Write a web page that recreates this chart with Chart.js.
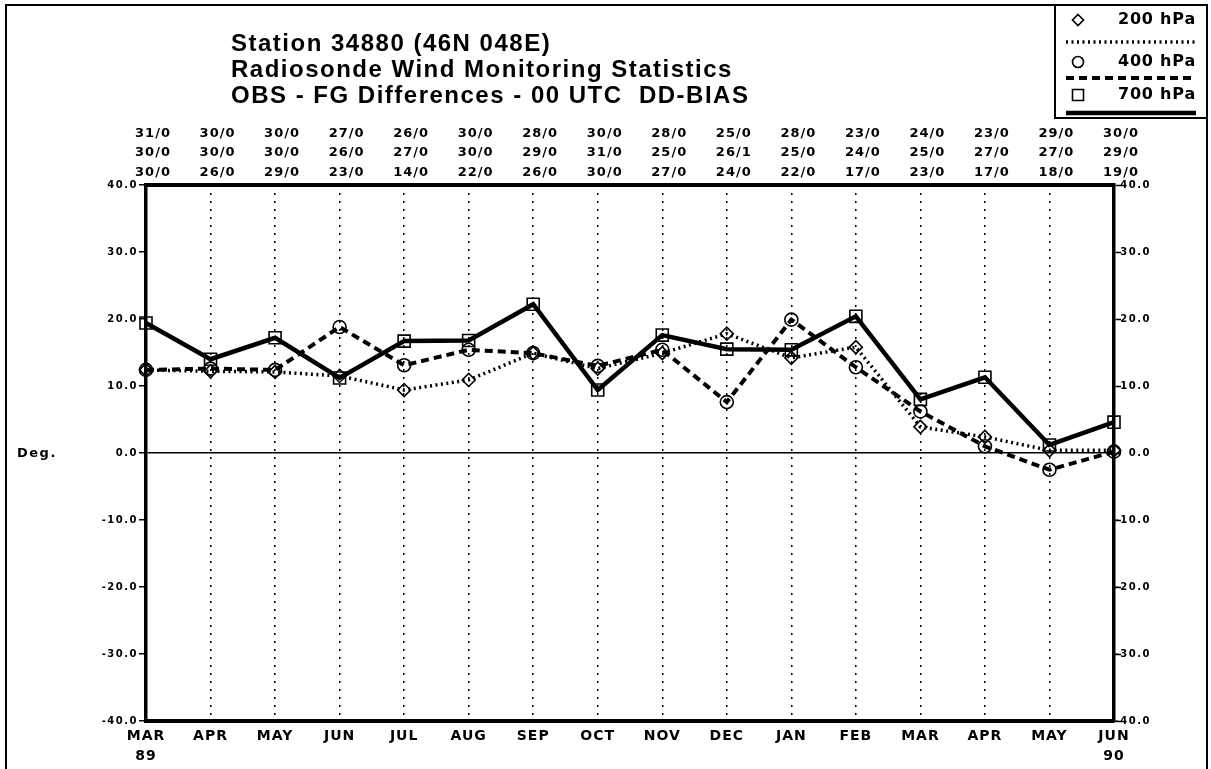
<!DOCTYPE html>
<html>
<head>
<meta charset="utf-8">
<script src="https://cdn.jsdelivr.net/npm/chart.js@4.4.1/dist/chart.umd.min.js"></script>
<style>
  html, body { margin: 0; padding: 0; background: #fff; }
  #wrap { width: 1211px; height: 769px; position: relative; }
</style>
</head>
<body>
<div id="wrap"><canvas id="c" width="1211" height="769"></canvas></div>
<script>
// Months on the time axis (MAR 1989 .. JUN 1990)
const months = ['MAR','APR','MAY','JUN','JUL','AUG','SEP','OCT','NOV','DEC','JAN','FEB','MAR','APR','MAY','JUN'];
const yearMarks = ['89','','','','','','','','','','','','','','','90'];

// Observation counts per month (used / rejected) for each level
const count200 = ['31/0','30/0','30/0','27/0','26/0','30/0','28/0','30/0','28/0','25/0','28/0','23/0','24/0','23/0','29/0','30/0'];
const count400 = ['30/0','30/0','30/0','26/0','27/0','30/0','29/0','31/0','25/0','26/1','25/0','24/0','25/0','27/0','27/0','29/0'];
const count700 = ['30/0','26/0','29/0','23/0','14/0','22/0','26/0','30/0','27/0','24/0','22/0','17/0','23/0','17/0','18/0','19/0'];

// Monthly mean wind-direction bias (degrees)
const bias200 = [12.4, 12.2, 12.1, 11.5, 9.4, 10.9, 14.9, 12.6, 14.9, 17.8, 14.2, 15.8, 3.9, 2.4, 0.4, 0.4];
const bias400 = [12.4, 12.6, 12.4, 18.8, 13.1, 15.4, 14.9, 13.0, 15.4, 7.6, 19.9, 12.8, 6.2, 1.0, -2.5, 0.2];
const bias700 = [19.4, 14.0, 17.2, 11.2, 16.7, 16.8, 22.2, 9.4, 17.6, 15.5, 15.4, 20.4, 8.0, 11.3, 1.2, 4.6];

const yTicks = [-40, -30, -20, -10, 0, 10, 20, 30, 40];

const titleLines = [
  'Station 34880 (46N 048E)',
  'Radiosonde Wind Monitoring Statistics',
  'OBS - FG Differences - 00 UTC  DD-BIAS'
];

const FONT = '"DejaVu Sans", "Liberation Sans", sans-serif';
const TITLE_FONT = '"Liberation Sans", Arial, sans-serif';

// Give an axis' tick labels extra letter spacing (the print font is very wide)
function spacedLabels(spacing) {
  return function (axis) {
    if (axis._spacedLabels) return;
    axis._spacedLabels = true;
    const orig = axis.drawLabels;
    axis.drawLabels = function (area) {
      const c = this.ctx;
      c.save();
      c.letterSpacing = spacing;
      orig.call(this, area);
      c.restore();
    };
  };
}

function drawMarker(ctx, style, x, y) {
  ctx.save();
  ctx.lineWidth = 1.6;
  ctx.strokeStyle = '#000';
  ctx.setLineDash([]);
  ctx.beginPath();
  if (style === 'rectRot') {
    ctx.moveTo(x, y - 5.5); ctx.lineTo(x + 5.5, y); ctx.lineTo(x, y + 5.5); ctx.lineTo(x - 5.5, y); ctx.closePath();
  } else if (style === 'circle') {
    ctx.arc(x, y, 5.5, 0, Math.PI * 2);
  } else {
    ctx.rect(x - 5.5, y - 5.5, 11, 11);
  }
  ctx.stroke();
  ctx.restore();
}

// Page frame, title block, axis caption and legend box
const decorations = {
  id: 'decorations',
  afterDraw(chart) {
    const ctx = chart.ctx;
    ctx.save();
    ctx.strokeStyle = '#000';
    ctx.fillStyle = '#000';

    ctx.lineWidth = 2;
    ctx.beginPath();
    ctx.moveTo(6, 769); ctx.lineTo(6, 5); ctx.lineTo(1207, 5); ctx.lineTo(1207, 769);
    ctx.stroke();

    ctx.textBaseline = 'middle';
    ctx.textAlign = 'left';
    ctx.font = 'bold 24px ' + TITLE_FONT;
    ctx.letterSpacing = '1.5px';
    titleLines.forEach((t, i) => ctx.fillText(t, 231, 44 + i * 26));

    ctx.font = 'bold 13px ' + FONT;
    ctx.letterSpacing = '1.5px';
    ctx.fillText('Deg.', 17, 454);

    // legend
    ctx.lineWidth = 2;
    ctx.strokeRect(1055, 5, 152, 113);
    const entries = [
      { label: '200 hPa', style: 'rectRot', dash: [2, 3.5], width: 3.5, y: 20, ly: 42 },
      { label: '400 hPa', style: 'circle', dash: [8, 5], width: 4, y: 62, ly: 78 },
      { label: '700 hPa', style: 'rect', dash: [], width: 4.5, y: 95, ly: 113 }
    ];
    ctx.font = 'bold 16px ' + FONT;
    ctx.letterSpacing = '0.8px';
    ctx.textAlign = 'right';
    entries.forEach(e => {
      drawMarker(ctx, e.style, 1078, e.y);
      ctx.fillText(e.label, 1196, e.y);
      ctx.save();
      ctx.setLineDash(e.dash);
      ctx.lineWidth = e.width;
      ctx.beginPath();
      ctx.moveTo(1066, e.ly); ctx.lineTo(1196, e.ly);
      ctx.stroke();
      ctx.restore();
    });
    ctx.restore();
  }
};

const topLabels = months.map((m, i) => [count200[i], count400[i], count700[i]]);
const bottomLabels = months.map((m, i) => yearMarks[i] ? [m, yearMarks[i]] : m);

const tickLabel = v => v.toFixed(1);

new Chart(document.getElementById('c'), {
  type: 'line',
  data: {
    labels: bottomLabels,
    datasets: [
      {
        label: '700 hPa',
        data: bias700,
        borderColor: '#000',
        borderWidth: 4.5,
        pointStyle: 'rect',
        pointRadius: 8.5,
        pointBorderWidth: 1.6,
        pointBorderColor: '#000',
        pointBackgroundColor: 'rgba(0,0,0,0)',
        tension: 0
      },
      {
        label: '400 hPa',
        data: bias400,
        borderColor: '#000',
        borderWidth: 4,
        borderDash: [8, 5],
        pointStyle: 'circle',
        pointRadius: 6.5,
        pointBorderWidth: 1.6,
        pointBorderColor: '#000',
        pointBackgroundColor: 'rgba(0,0,0,0)',
        tension: 0
      },
      {
        label: '200 hPa',
        data: bias200,
        borderColor: '#000',
        borderWidth: 3.5,
        borderDash: [2, 3.5],
        pointStyle: 'rectRot',
        pointRadius: 6.5,
        pointBorderWidth: 1.6,
        pointBorderColor: '#000',
        pointBackgroundColor: 'rgba(0,0,0,0)',
        tension: 0
      }
    ]
  },
  options: {
    responsive: false,
    animation: false,
    layout: { padding: { left: 0, right: 60, top: 0, bottom: 0 } },
    plugins: { legend: { display: false }, title: { display: false }, tooltip: { enabled: false } },
    scales: {
      x: {
        type: 'category',
        position: 'bottom',
        offset: false,
        grid: { display: true, color: '#000', lineWidth: 1.5, drawTicks: false },
        border: { display: true, color: '#000', width: 4, dash: [2, 6] },
        ticks: {
          autoSkip: false, maxRotation: 0, padding: 5, color: '#000',
          font: { family: FONT, size: 14, weight: 'bold', lineHeight: 1.45 }
        },
        afterUpdate: spacedLabels('1px'),
        afterFit: a => { a.height = 769 - 721; }
      },
      xTop: {
        type: 'category',
        position: 'top',
        labels: topLabels,
        offset: false,
        grid: { display: false, drawTicks: false },
        border: { display: true, color: '#000', width: 4 },
        ticks: {
          autoSkip: false, maxRotation: 0, padding: 3, labelOffset: 7, color: '#000',
          font: { family: FONT, size: 13, weight: 'bold', lineHeight: 1.5 }
        },
        afterUpdate: spacedLabels('1px'),
        afterFit: a => { a.height = 185; }
      },
      y: {
        type: 'linear',
        position: 'left',
        min: -40, max: 40,
        afterBuildTicks: a => { a.ticks = yTicks.map(v => ({ value: v })); },
        grid: {
          color: c => (c.tick && c.tick.value === 0) ? '#000' : 'rgba(0,0,0,0)',
          lineWidth: 1.5, drawTicks: true, tickLength: 7, tickColor: '#000', tickWidth: 1.5
        },
        border: { display: true, color: '#000', width: 3.5 },
        ticks: {
          padding: 1, color: '#000', callback: tickLabel,
          font: { family: FONT, size: 10, weight: 'bold' }
        },
        afterUpdate: spacedLabels('1.5px'),
        afterFit: a => { a.width = 146; }
      },
      yRight: {
        type: 'linear',
        position: 'right',
        min: -40, max: 40,
        afterBuildTicks: a => { a.ticks = yTicks.map(v => ({ value: v })); },
        grid: { drawOnChartArea: false, drawTicks: true, tickLength: 7, tickColor: '#000', tickWidth: 1.5 },
        border: { display: true, color: '#000', width: 3.5 },
        ticks: {
          crossAlign: 'far', padding: 1, color: '#000', callback: tickLabel,
          font: { family: FONT, size: 10, weight: 'bold' }
        },
        afterUpdate: spacedLabels('1.5px'),
        afterFit: a => { a.width = 1151 - 1114; }
      }
    }
  },
  plugins: [decorations]
});
</script>
</body>
</html>
